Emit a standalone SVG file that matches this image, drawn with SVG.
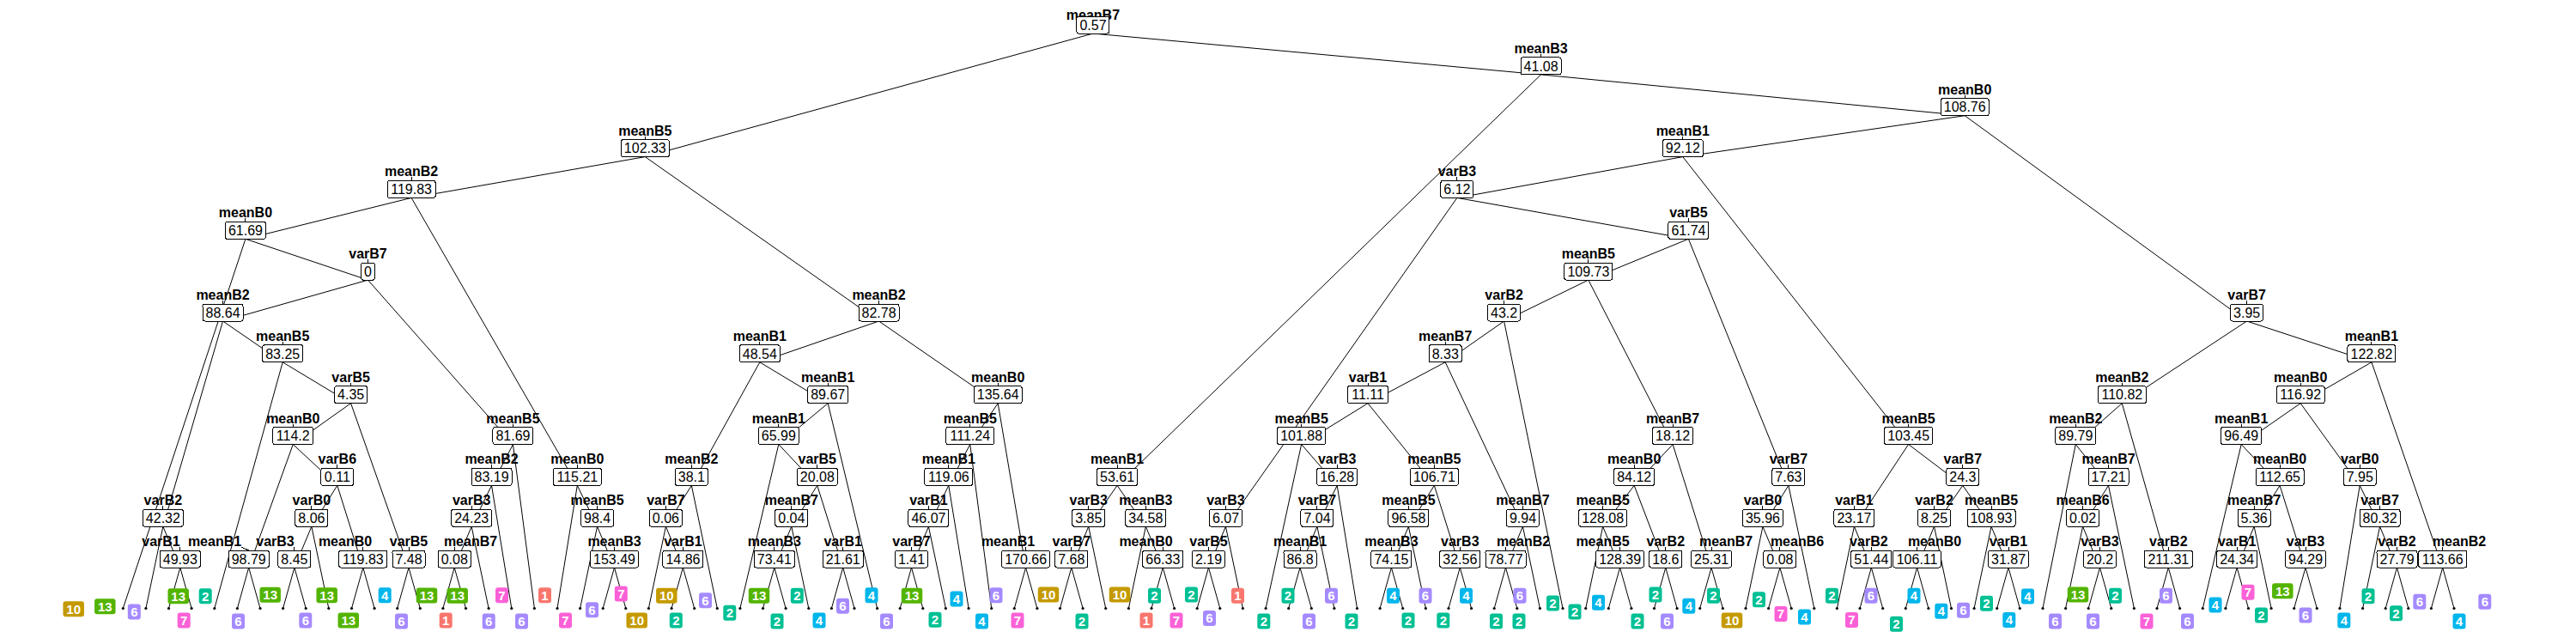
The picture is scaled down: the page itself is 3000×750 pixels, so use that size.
<svg xmlns="http://www.w3.org/2000/svg" xmlns:xlink="http://www.w3.org/1999/xlink" width="3000" height="750" viewBox="0 0 3000 750">
<style>
.e{stroke:#000;stroke-width:1;fill:none;stroke-linejoin:round}
.tk{stroke:#000;stroke-width:1;fill:none;shape-rendering:crispEdges}
.nm{font-family:"Liberation Sans",Arial,sans-serif;font-weight:bold;font-size:16px;text-anchor:middle;fill:#000}
.vl{font-family:"Liberation Sans",Arial,sans-serif;font-size:16px;text-anchor:middle;fill:#000}
.bx{fill:#fff;stroke:#000;stroke-width:1;shape-rendering:crispEdges}
.lf{font-family:"Liberation Sans",Arial,sans-serif;font-weight:bold;font-size:15px;text-anchor:middle;fill:#fff}
.dt{fill:#000}
.c1{fill:#F8766D}.c10{fill:#C49A00}.c13{fill:#53B400}.c2{fill:#00C094}.c4{fill:#00B6EB}.c6{fill:#A58AFF}.c7{fill:#FB61D7}
</style>
<defs>
<path id="tk" class="tk" d="M0-24V-20"/>
<rect id="b1" class="bx" x="-8" y="-20" width="16" height="20" rx="2.5"/>
<rect id="b3" class="bx" x="-19" y="-20" width="38" height="20" rx="2.5"/>
<rect id="b4" class="bx" x="-23.5" y="-20" width="47" height="20" rx="2.5"/>
<rect id="b5" class="bx" x="-28" y="-20" width="56" height="20" rx="2.5"/>
<rect id="r1" x="-7.5" y="-9" width="15" height="18" rx="3"/>
<rect id="r2" x="-12.25" y="-9" width="24.5" height="18" rx="3"/>
</defs>
<rect width="3000" height="750" fill="#fff"/>
<g id="connectors" class="e">
<path d="M751.3 182.6L1272.95 39L1794.6 86.9"/>
<path d="M479.1 230.4L751.3 182.6L1023.5 374"/>
<path d="M285.9 278.3L479.1 230.4L672.3 565.4"/>
<path d="M143.3 708.5L285.9 278.3L428.5 326.1"/>
<path d="M259.5 374L428.5 326.1L597.45 517.5"/>
<path d="M189.85 613.2L259.5 374L329.2 421.8"/>
<path d="M169.9 708.5L189.85 613.2L209.8 661"/>
<path d="M196.5 708.5L209.8 661L223.1 708.5"/>
<path d="M249.8 708.5L329.2 421.8L408.6 469.7"/>
<path d="M341.25 517.5L408.6 469.7L476 661"/>
<path d="M289.7 661L341.25 517.5L392.8 565.4"/>
<path d="M276.4 708.5L289.7 661L303 708.5"/>
<path d="M362.85 613.2L392.8 565.4L422.8 661"/>
<path d="M342.9 661L362.85 613.2L382.8 708.5"/>
<path d="M329.6 708.5L342.9 661L356.2 708.5"/>
<path d="M409.5 708.5L422.8 661L436.1 708.5"/>
<path d="M462.7 708.5L476 661L489.3 708.5"/>
<path d="M572.5 565.4L597.45 517.5L622.4 708.5"/>
<path d="M549.15 613.2L572.5 565.4L595.8 708.5"/>
<path d="M529.2 661L549.15 613.2L569.1 708.5"/>
<path d="M515.9 708.5L529.2 661L542.5 708.5"/>
<path d="M649 708.5L672.3 565.4L695.55 613.2"/>
<path d="M675.6 708.5L695.55 613.2L715.5 661"/>
<path d="M702.2 708.5L715.5 661L728.8 708.5"/>
<path d="M884.8 421.8L1023.5 374L1162.2 469.7"/>
<path d="M805.35 565.4L884.8 421.8L964.2 469.7"/>
<path d="M775.4 613.2L805.35 565.4L835.3 708.5"/>
<path d="M755.4 708.5L775.4 613.2L795.4 661"/>
<path d="M782.1 708.5L795.4 661L808.7 708.5"/>
<path d="M906.8 517.5L964.2 469.7L1021.6 708.5"/>
<path d="M861.9 708.5L906.8 517.5L951.75 565.4"/>
<path d="M921.8 613.2L951.75 565.4L981.7 661"/>
<path d="M901.8 661L921.8 613.2L941.8 708.5"/>
<path d="M888.5 708.5L901.8 661L915.1 708.5"/>
<path d="M968.4 708.5L981.7 661L995 708.5"/>
<path d="M1129.75 517.5L1162.2 469.7L1194.6 661"/>
<path d="M1104.8 565.4L1129.75 517.5L1154.7 708.5"/>
<path d="M1081.45 613.2L1104.8 565.4L1128.1 708.5"/>
<path d="M1061.5 661L1081.45 613.2L1101.4 708.5"/>
<path d="M1048.2 708.5L1061.5 661L1074.8 708.5"/>
<path d="M1181.3 708.5L1194.6 661L1207.9 708.5"/>
<path d="M1301.05 565.4L1794.6 86.9L2288.2 134.7"/>
<path d="M1267.75 613.2L1301.05 565.4L1334.35 613.2"/>
<path d="M1247.8 661L1267.75 613.2L1287.7 708.5"/>
<path d="M1234.5 708.5L1247.8 661L1261.1 708.5"/>
<path d="M1314.4 708.5L1334.35 613.2L1354.3 661"/>
<path d="M1341 708.5L1354.3 661L1367.6 708.5"/>
<path d="M1959.75 182.6L2288.2 134.7L2616.6 374"/>
<path d="M1696.9 230.4L1959.75 182.6L2222.6 517.5"/>
<path d="M1427.45 613.2L1696.9 230.4L1966.4 278.3"/>
<path d="M1407.5 661L1427.45 613.2L1447.4 708.5"/>
<path d="M1394.2 708.5L1407.5 661L1420.8 708.5"/>
<path d="M1849.85 326.1L1966.4 278.3L2082.9 565.4"/>
<path d="M1751.6 374L1849.85 326.1L1948.1 517.5"/>
<path d="M1683.2 421.8L1751.6 374L1820 708.5"/>
<path d="M1593 469.7L1683.2 421.8L1773.45 613.2"/>
<path d="M1515.65 517.5L1593 469.7L1670.35 565.4"/>
<path d="M1474.1 708.5L1515.65 517.5L1557.2 565.4"/>
<path d="M1533.95 613.2L1557.2 565.4L1580.5 708.5"/>
<path d="M1514 661L1533.95 613.2L1553.9 708.5"/>
<path d="M1500.7 708.5L1514 661L1527.3 708.5"/>
<path d="M1640.4 613.2L1670.35 565.4L1700.3 661"/>
<path d="M1620.4 661L1640.4 613.2L1660.4 708.5"/>
<path d="M1607.1 708.5L1620.4 661L1633.7 708.5"/>
<path d="M1687 708.5L1700.3 661L1713.6 708.5"/>
<path d="M1753.5 661L1773.45 613.2L1793.4 708.5"/>
<path d="M1740.2 708.5L1753.5 661L1766.8 708.5"/>
<path d="M1903.2 565.4L1948.1 517.5L1993.05 661"/>
<path d="M1866.65 613.2L1903.2 565.4L1939.8 661"/>
<path d="M1846.7 708.5L1866.65 613.2L1886.6 661"/>
<path d="M1873.3 708.5L1886.6 661L1899.9 708.5"/>
<path d="M1926.5 708.5L1939.8 661L1953.1 708.5"/>
<path d="M1979.7 708.5L1993.05 661L2006.4 708.5"/>
<path d="M2052.95 613.2L2082.9 565.4L2112.8 708.5"/>
<path d="M2033 708.5L2052.95 613.2L2072.9 661"/>
<path d="M2059.6 708.5L2072.9 661L2086.2 708.5"/>
<path d="M2159.4 613.2L2222.6 517.5L2285.8 565.4"/>
<path d="M2139.4 708.5L2159.4 613.2L2179.35 661"/>
<path d="M2166 708.5L2179.35 661L2192.7 708.5"/>
<path d="M2252.55 613.2L2285.8 565.4L2319.05 613.2"/>
<path d="M2232.6 661L2252.55 613.2L2272.5 708.5"/>
<path d="M2219.3 708.5L2232.6 661L2245.9 708.5"/>
<path d="M2299.1 708.5L2319.05 613.2L2339 661"/>
<path d="M2325.7 708.5L2339 661L2352.3 708.5"/>
<path d="M2471.3 469.7L2616.6 374L2761.95 421.8"/>
<path d="M2417.25 517.5L2471.3 469.7L2525.3 661"/>
<path d="M2379 708.5L2417.25 517.5L2455.5 565.4"/>
<path d="M2425.55 613.2L2455.5 565.4L2485.4 708.5"/>
<path d="M2405.6 708.5L2425.55 613.2L2445.5 661"/>
<path d="M2432.2 708.5L2445.5 661L2458.8 708.5"/>
<path d="M2512 708.5L2525.3 661L2538.6 708.5"/>
<path d="M2679.2 469.7L2761.95 421.8L2844.7 661"/>
<path d="M2610.2 517.5L2679.2 469.7L2748.2 565.4"/>
<path d="M2565.3 708.5L2610.2 517.5L2655.1 565.4"/>
<path d="M2625.15 613.2L2655.1 565.4L2685 661"/>
<path d="M2605.2 661L2625.15 613.2L2645.1 708.5"/>
<path d="M2591.9 708.5L2605.2 661L2618.5 708.5"/>
<path d="M2671.7 708.5L2685 661L2698.3 708.5"/>
<path d="M2724.9 708.5L2748.2 565.4L2771.55 613.2"/>
<path d="M2751.6 708.5L2771.55 613.2L2791.5 661"/>
<path d="M2778.2 708.5L2791.5 661L2804.8 708.5"/>
<path d="M2831.4 708.5L2844.7 661L2858 708.5"/>
</g>
<g id="nodes">
<g id="n_root" transform="translate(1272.95,39)"><text class="nm" y="-15.8">meanB7</text><use href="#b3"/><text class="vl" y="-4.3">0.57</text></g>
<g id="n_meanB5_10233" transform="translate(751.3,182.6)"><use href="#tk"/><text class="nm" y="-25">meanB5</text><use href="#b5"/><text class="vl" y="-4.3">102.33</text></g>
<g id="n_meanB2_11983" transform="translate(479.1,230.4)"><use href="#tk"/><text class="nm" y="-25">meanB2</text><use href="#b5"/><text class="vl" y="-4.3">119.83</text></g>
<g id="n_meanB0_6169" transform="translate(285.9,278.3)"><use href="#tk"/><text class="nm" y="-25">meanB0</text><use href="#b4"/><text class="vl" y="-4.3">61.69</text></g>
<g id="n_varB7_0" transform="translate(428.5,326.1)"><use href="#tk"/><text class="nm" y="-25">varB7</text><use href="#b1"/><text class="vl" y="-4.3">0</text></g>
<g id="n_meanB2_8864" transform="translate(259.5,374)"><use href="#tk"/><text class="nm" y="-25">meanB2</text><use href="#b4"/><text class="vl" y="-4.3">88.64</text></g>
<g id="n_varB2_4232" transform="translate(189.85,613.2)"><use href="#tk"/><text class="nm" y="-25">varB2</text><use href="#b4"/><text class="vl" y="-4.3">42.32</text></g>
<g id="n_varB1_4993" transform="translate(209.8,661)"><use href="#tk"/><text class="nm" x="-22.3" y="-25">varB1</text><use href="#b4"/><text class="vl" y="-4.3">49.93</text></g>
<g id="n_meanB5_8325" transform="translate(329.2,421.8)"><use href="#tk"/><text class="nm" y="-25">meanB5</text><use href="#b4"/><text class="vl" y="-4.3">83.25</text></g>
<g id="n_varB5_435" transform="translate(408.6,469.7)"><use href="#tk"/><text class="nm" y="-25">varB5</text><use href="#b3"/><text class="vl" y="-4.3">4.35</text></g>
<g id="n_meanB0_1142" transform="translate(341.25,517.5)"><use href="#tk"/><text class="nm" y="-25">meanB0</text><use href="#b4"/><text class="vl" y="-4.3">114.2</text></g>
<g id="n_meanB1_9879" transform="translate(289.7,661)"><path class="tk" d="M-8.7-24L0-20"/><text class="nm" x="-39.7" y="-25">meanB1</text><use href="#b4"/><text class="vl" y="-4.3">98.79</text></g>
<g id="n_varB6_011" transform="translate(392.8,565.4)"><use href="#tk"/><text class="nm" y="-25">varB6</text><use href="#b3"/><text class="vl" y="-4.3">0.11</text></g>
<g id="n_varB0_806" transform="translate(362.85,613.2)"><use href="#tk"/><text class="nm" y="-25">varB0</text><use href="#b3"/><text class="vl" y="-4.3">8.06</text></g>
<g id="n_varB3_845" transform="translate(342.9,661)"><use href="#tk"/><text class="nm" x="-22.4" y="-25">varB3</text><use href="#b3"/><text class="vl" y="-4.3">8.45</text></g>
<g id="n_meanB0_11983" transform="translate(422.8,661)"><use href="#tk"/><text class="nm" x="-20.8" y="-25">meanB0</text><use href="#b5"/><text class="vl" y="-4.3">119.83</text></g>
<g id="n_varB5_748" transform="translate(476,661)"><use href="#tk"/><text class="nm" y="-25">varB5</text><use href="#b3"/><text class="vl" y="-4.3">7.48</text></g>
<g id="n_meanB5_8169" transform="translate(597.45,517.5)"><use href="#tk"/><text class="nm" y="-25">meanB5</text><use href="#b4"/><text class="vl" y="-4.3">81.69</text></g>
<g id="n_meanB2_8319" transform="translate(572.5,565.4)"><use href="#tk"/><text class="nm" y="-25">meanB2</text><use href="#b4"/><text class="vl" y="-4.3">83.19</text></g>
<g id="n_varB3_2423" transform="translate(549.15,613.2)"><use href="#tk"/><text class="nm" y="-25">varB3</text><use href="#b4"/><text class="vl" y="-4.3">24.23</text></g>
<g id="n_meanB7_008" transform="translate(529.2,661)"><use href="#tk"/><text class="nm" x="18.8" y="-25">meanB7</text><use href="#b3"/><text class="vl" y="-4.3">0.08</text></g>
<g id="n_meanB0_11521" transform="translate(672.3,565.4)"><use href="#tk"/><text class="nm" y="-25">meanB0</text><use href="#b5"/><text class="vl" y="-4.3">115.21</text></g>
<g id="n_meanB5_984" transform="translate(695.55,613.2)"><use href="#tk"/><text class="nm" y="-25">meanB5</text><use href="#b3"/><text class="vl" y="-4.3">98.4</text></g>
<g id="n_meanB3_15349" transform="translate(715.5,661)"><use href="#tk"/><text class="nm" y="-25">meanB3</text><use href="#b5"/><text class="vl" y="-4.3">153.49</text></g>
<g id="n_meanB2_8278" transform="translate(1023.5,374)"><use href="#tk"/><text class="nm" y="-25">meanB2</text><use href="#b4"/><text class="vl" y="-4.3">82.78</text></g>
<g id="n_meanB1_4854" transform="translate(884.8,421.8)"><use href="#tk"/><text class="nm" y="-25">meanB1</text><use href="#b4"/><text class="vl" y="-4.3">48.54</text></g>
<g id="n_meanB2_381" transform="translate(805.35,565.4)"><use href="#tk"/><text class="nm" y="-25">meanB2</text><use href="#b3"/><text class="vl" y="-4.3">38.1</text></g>
<g id="n_varB7_006" transform="translate(775.4,613.2)"><use href="#tk"/><text class="nm" y="-25">varB7</text><use href="#b3"/><text class="vl" y="-4.3">0.06</text></g>
<g id="n_varB1_1486" transform="translate(795.4,661)"><use href="#tk"/><text class="nm" y="-25">varB1</text><use href="#b4"/><text class="vl" y="-4.3">14.86</text></g>
<g id="n_meanB1_8967" transform="translate(964.2,469.7)"><use href="#tk"/><text class="nm" y="-25">meanB1</text><use href="#b4"/><text class="vl" y="-4.3">89.67</text></g>
<g id="n_meanB1_6599" transform="translate(906.8,517.5)"><use href="#tk"/><text class="nm" y="-25">meanB1</text><use href="#b4"/><text class="vl" y="-4.3">65.99</text></g>
<g id="n_varB5_2008" transform="translate(951.75,565.4)"><use href="#tk"/><text class="nm" y="-25">varB5</text><use href="#b4"/><text class="vl" y="-4.3">20.08</text></g>
<g id="n_meanB7_004" transform="translate(921.8,613.2)"><use href="#tk"/><text class="nm" y="-25">meanB7</text><use href="#b3"/><text class="vl" y="-4.3">0.04</text></g>
<g id="n_meanB3_7341" transform="translate(901.8,661)"><use href="#tk"/><text class="nm" y="-25">meanB3</text><use href="#b4"/><text class="vl" y="-4.3">73.41</text></g>
<g id="n_varB1_2161" transform="translate(981.7,661)"><use href="#tk"/><text class="nm" y="-25">varB1</text><use href="#b4"/><text class="vl" y="-4.3">21.61</text></g>
<g id="n_meanB0_13564" transform="translate(1162.2,469.7)"><use href="#tk"/><text class="nm" y="-25">meanB0</text><use href="#b5"/><text class="vl" y="-4.3">135.64</text></g>
<g id="n_meanB5_11124" transform="translate(1129.75,517.5)"><use href="#tk"/><text class="nm" y="-25">meanB5</text><use href="#b5"/><text class="vl" y="-4.3">111.24</text></g>
<g id="n_meanB1_11906" transform="translate(1104.8,565.4)"><use href="#tk"/><text class="nm" y="-25">meanB1</text><use href="#b5"/><text class="vl" y="-4.3">119.06</text></g>
<g id="n_varB1_4607" transform="translate(1081.45,613.2)"><use href="#tk"/><text class="nm" y="-25">varB1</text><use href="#b4"/><text class="vl" y="-4.3">46.07</text></g>
<g id="n_varB7_141" transform="translate(1061.5,661)"><use href="#tk"/><text class="nm" y="-25">varB7</text><use href="#b3"/><text class="vl" y="-4.3">1.41</text></g>
<g id="n_meanB1_17066" transform="translate(1194.6,661)"><use href="#tk"/><text class="nm" x="-20.6" y="-25">meanB1</text><use href="#b5"/><text class="vl" y="-4.3">170.66</text></g>
<g id="n_meanB3_4108" transform="translate(1794.6,86.9)"><use href="#tk"/><text class="nm" y="-25">meanB3</text><use href="#b4"/><text class="vl" y="-4.3">41.08</text></g>
<g id="n_meanB1_5361" transform="translate(1301.05,565.4)"><use href="#tk"/><text class="nm" y="-25">meanB1</text><use href="#b4"/><text class="vl" y="-4.3">53.61</text></g>
<g id="n_varB3_385" transform="translate(1267.75,613.2)"><use href="#tk"/><text class="nm" y="-25">varB3</text><use href="#b3"/><text class="vl" y="-4.3">3.85</text></g>
<g id="n_varB7_768" transform="translate(1247.8,661)"><use href="#tk"/><text class="nm" y="-25">varB7</text><use href="#b3"/><text class="vl" y="-4.3">7.68</text></g>
<g id="n_meanB3_3458" transform="translate(1334.35,613.2)"><use href="#tk"/><text class="nm" y="-25">meanB3</text><use href="#b4"/><text class="vl" y="-4.3">34.58</text></g>
<g id="n_meanB0_6633" transform="translate(1354.3,661)"><use href="#tk"/><text class="nm" x="-19.8" y="-25">meanB0</text><use href="#b4"/><text class="vl" y="-4.3">66.33</text></g>
<g id="n_meanB0_10876" transform="translate(2288.2,134.7)"><use href="#tk"/><text class="nm" y="-25">meanB0</text><use href="#b5"/><text class="vl" y="-4.3">108.76</text></g>
<g id="n_meanB1_9212" transform="translate(1959.75,182.6)"><use href="#tk"/><text class="nm" y="-25">meanB1</text><use href="#b4"/><text class="vl" y="-4.3">92.12</text></g>
<g id="n_varB3_612" transform="translate(1696.9,230.4)"><use href="#tk"/><text class="nm" y="-25">varB3</text><use href="#b3"/><text class="vl" y="-4.3">6.12</text></g>
<g id="n_varB3_607" transform="translate(1427.45,613.2)"><use href="#tk"/><text class="nm" y="-25">varB3</text><use href="#b3"/><text class="vl" y="-4.3">6.07</text></g>
<g id="n_varB5_219" transform="translate(1407.5,661)"><use href="#tk"/><text class="nm" y="-25">varB5</text><use href="#b3"/><text class="vl" y="-4.3">2.19</text></g>
<g id="n_varB5_6174" transform="translate(1966.4,278.3)"><use href="#tk"/><text class="nm" y="-25">varB5</text><use href="#b4"/><text class="vl" y="-4.3">61.74</text></g>
<g id="n_meanB5_10973" transform="translate(1849.85,326.1)"><use href="#tk"/><text class="nm" y="-25">meanB5</text><use href="#b5"/><text class="vl" y="-4.3">109.73</text></g>
<g id="n_varB2_432" transform="translate(1751.6,374)"><use href="#tk"/><text class="nm" y="-25">varB2</text><use href="#b3"/><text class="vl" y="-4.3">43.2</text></g>
<g id="n_meanB7_833" transform="translate(1683.2,421.8)"><use href="#tk"/><text class="nm" y="-25">meanB7</text><use href="#b3"/><text class="vl" y="-4.3">8.33</text></g>
<g id="n_varB1_1111" transform="translate(1593,469.7)"><use href="#tk"/><text class="nm" y="-25">varB1</text><use href="#b4"/><text class="vl" y="-4.3">11.11</text></g>
<g id="n_meanB5_10188" transform="translate(1515.65,517.5)"><use href="#tk"/><text class="nm" y="-25">meanB5</text><use href="#b5"/><text class="vl" y="-4.3">101.88</text></g>
<g id="n_varB3_1628" transform="translate(1557.2,565.4)"><use href="#tk"/><text class="nm" y="-25">varB3</text><use href="#b4"/><text class="vl" y="-4.3">16.28</text></g>
<g id="n_varB7_704" transform="translate(1533.95,613.2)"><use href="#tk"/><text class="nm" y="-25">varB7</text><use href="#b3"/><text class="vl" y="-4.3">7.04</text></g>
<g id="n_meanB1_868" transform="translate(1514,661)"><use href="#tk"/><text class="nm" y="-25">meanB1</text><use href="#b3"/><text class="vl" y="-4.3">86.8</text></g>
<g id="n_meanB5_10671" transform="translate(1670.35,565.4)"><use href="#tk"/><text class="nm" y="-25">meanB5</text><use href="#b5"/><text class="vl" y="-4.3">106.71</text></g>
<g id="n_meanB5_9658" transform="translate(1640.4,613.2)"><use href="#tk"/><text class="nm" y="-25">meanB5</text><use href="#b4"/><text class="vl" y="-4.3">96.58</text></g>
<g id="n_meanB3_7415" transform="translate(1620.4,661)"><use href="#tk"/><text class="nm" y="-25">meanB3</text><use href="#b4"/><text class="vl" y="-4.3">74.15</text></g>
<g id="n_varB3_3256" transform="translate(1700.3,661)"><use href="#tk"/><text class="nm" y="-25">varB3</text><use href="#b4"/><text class="vl" y="-4.3">32.56</text></g>
<g id="n_meanB7_994" transform="translate(1773.45,613.2)"><use href="#tk"/><text class="nm" y="-25">meanB7</text><use href="#b3"/><text class="vl" y="-4.3">9.94</text></g>
<g id="n_meanB2_7877" transform="translate(1753.5,661)"><use href="#tk"/><text class="nm" x="20.5" y="-25">meanB2</text><use href="#b4"/><text class="vl" y="-4.3">78.77</text></g>
<g id="n_meanB7_1812" transform="translate(1948.1,517.5)"><use href="#tk"/><text class="nm" y="-25">meanB7</text><use href="#b4"/><text class="vl" y="-4.3">18.12</text></g>
<g id="n_meanB0_8412" transform="translate(1903.2,565.4)"><use href="#tk"/><text class="nm" y="-25">meanB0</text><use href="#b4"/><text class="vl" y="-4.3">84.12</text></g>
<g id="n_meanB5_12808" transform="translate(1866.65,613.2)"><use href="#tk"/><text class="nm" y="-25">meanB5</text><use href="#b5"/><text class="vl" y="-4.3">128.08</text></g>
<g id="n_meanB5_12839" transform="translate(1886.6,661)"><use href="#tk"/><text class="nm" x="-20.1" y="-25">meanB5</text><use href="#b5"/><text class="vl" y="-4.3">128.39</text></g>
<g id="n_varB2_186" transform="translate(1939.8,661)"><use href="#tk"/><text class="nm" y="-25">varB2</text><use href="#b3"/><text class="vl" y="-4.3">18.6</text></g>
<g id="n_meanB7_2531" transform="translate(1993.05,661)"><use href="#tk"/><text class="nm" x="17" y="-25">meanB7</text><use href="#b4"/><text class="vl" y="-4.3">25.31</text></g>
<g id="n_varB7_763" transform="translate(2082.9,565.4)"><use href="#tk"/><text class="nm" y="-25">varB7</text><use href="#b3"/><text class="vl" y="-4.3">7.63</text></g>
<g id="n_varB0_3596" transform="translate(2052.95,613.2)"><use href="#tk"/><text class="nm" y="-25">varB0</text><use href="#b4"/><text class="vl" y="-4.3">35.96</text></g>
<g id="n_meanB6_008" transform="translate(2072.9,661)"><use href="#tk"/><text class="nm" x="20.1" y="-25">meanB6</text><use href="#b3"/><text class="vl" y="-4.3">0.08</text></g>
<g id="n_meanB5_10345" transform="translate(2222.6,517.5)"><use href="#tk"/><text class="nm" y="-25">meanB5</text><use href="#b5"/><text class="vl" y="-4.3">103.45</text></g>
<g id="n_varB1_2317" transform="translate(2159.4,613.2)"><use href="#tk"/><text class="nm" y="-25">varB1</text><use href="#b4"/><text class="vl" y="-4.3">23.17</text></g>
<g id="n_varB2_5144" transform="translate(2179.35,661)"><use href="#tk"/><text class="nm" x="-3" y="-25">varB2</text><use href="#b4"/><text class="vl" y="-4.3">51.44</text></g>
<g id="n_varB7_243" transform="translate(2285.8,565.4)"><use href="#tk"/><text class="nm" y="-25">varB7</text><use href="#b3"/><text class="vl" y="-4.3">24.3</text></g>
<g id="n_varB2_825" transform="translate(2252.55,613.2)"><use href="#tk"/><text class="nm" y="-25">varB2</text><use href="#b3"/><text class="vl" y="-4.3">8.25</text></g>
<g id="n_meanB0_10611" transform="translate(2232.6,661)"><use href="#tk"/><text class="nm" x="20.4" y="-25">meanB0</text><use href="#b5"/><text class="vl" y="-4.3">106.11</text></g>
<g id="n_meanB5_10893" transform="translate(2319.05,613.2)"><use href="#tk"/><text class="nm" y="-25">meanB5</text><use href="#b5"/><text class="vl" y="-4.3">108.93</text></g>
<g id="n_varB1_3187" transform="translate(2339,661)"><use href="#tk"/><text class="nm" y="-25">varB1</text><use href="#b4"/><text class="vl" y="-4.3">31.87</text></g>
<g id="n_varB7_395" transform="translate(2616.6,374)"><use href="#tk"/><text class="nm" y="-25">varB7</text><use href="#b3"/><text class="vl" y="-4.3">3.95</text></g>
<g id="n_meanB2_11082" transform="translate(2471.3,469.7)"><use href="#tk"/><text class="nm" y="-25">meanB2</text><use href="#b5"/><text class="vl" y="-4.3">110.82</text></g>
<g id="n_meanB2_8979" transform="translate(2417.25,517.5)"><use href="#tk"/><text class="nm" y="-25">meanB2</text><use href="#b4"/><text class="vl" y="-4.3">89.79</text></g>
<g id="n_meanB7_1721" transform="translate(2455.5,565.4)"><use href="#tk"/><text class="nm" y="-25">meanB7</text><use href="#b4"/><text class="vl" y="-4.3">17.21</text></g>
<g id="n_meanB6_002" transform="translate(2425.55,613.2)"><use href="#tk"/><text class="nm" y="-25">meanB6</text><use href="#b3"/><text class="vl" y="-4.3">0.02</text></g>
<g id="n_varB3_202" transform="translate(2445.5,661)"><use href="#tk"/><text class="nm" y="-25">varB3</text><use href="#b3"/><text class="vl" y="-4.3">20.2</text></g>
<g id="n_varB2_21131" transform="translate(2525.3,661)"><use href="#tk"/><text class="nm" y="-25">varB2</text><use href="#b5"/><text class="vl" y="-4.3">211.31</text></g>
<g id="n_meanB1_12282" transform="translate(2761.95,421.8)"><use href="#tk"/><text class="nm" y="-25">meanB1</text><use href="#b5"/><text class="vl" y="-4.3">122.82</text></g>
<g id="n_meanB0_11692" transform="translate(2679.2,469.7)"><use href="#tk"/><text class="nm" y="-25">meanB0</text><use href="#b5"/><text class="vl" y="-4.3">116.92</text></g>
<g id="n_meanB1_9649" transform="translate(2610.2,517.5)"><use href="#tk"/><text class="nm" y="-25">meanB1</text><use href="#b4"/><text class="vl" y="-4.3">96.49</text></g>
<g id="n_meanB0_11265" transform="translate(2655.1,565.4)"><use href="#tk"/><text class="nm" y="-25">meanB0</text><use href="#b5"/><text class="vl" y="-4.3">112.65</text></g>
<g id="n_meanB7_536" transform="translate(2625.15,613.2)"><use href="#tk"/><text class="nm" y="-25">meanB7</text><use href="#b3"/><text class="vl" y="-4.3">5.36</text></g>
<g id="n_varB1_2434" transform="translate(2605.2,661)"><use href="#tk"/><text class="nm" y="-25">varB1</text><use href="#b4"/><text class="vl" y="-4.3">24.34</text></g>
<g id="n_varB3_9429" transform="translate(2685,661)"><use href="#tk"/><text class="nm" y="-25">varB3</text><use href="#b4"/><text class="vl" y="-4.3">94.29</text></g>
<g id="n_varB0_795" transform="translate(2748.2,565.4)"><use href="#tk"/><text class="nm" y="-25">varB0</text><use href="#b3"/><text class="vl" y="-4.3">7.95</text></g>
<g id="n_varB7_8032" transform="translate(2771.55,613.2)"><use href="#tk"/><text class="nm" y="-25">varB7</text><use href="#b4"/><text class="vl" y="-4.3">80.32</text></g>
<g id="n_varB2_2779" transform="translate(2791.5,661)"><use href="#tk"/><text class="nm" y="-25">varB2</text><use href="#b4"/><text class="vl" y="-4.3">27.79</text></g>
<g id="n_meanB2_11366" transform="translate(2844.7,661)"><use href="#tk"/><text class="nm" x="19.3" y="-25">meanB2</text><use href="#b5"/><text class="vl" y="-4.3">113.66</text></g>
</g>
<g id="leaves">
<g id="leaf0"><circle class="dt" cx="143.3" cy="708.5" r="1.6"/><use href="#r2" class="c10" x="85.7" y="709.2"/><text class="lf" x="85.7" y="709.2" dy=".36em">10</text></g>
<g id="leaf1"><circle class="dt" cx="169.9" cy="708.5" r="1.6"/><use href="#r2" class="c13" x="122.3" y="706.2"/><text class="lf" x="122.3" y="706.2" dy=".36em">13</text></g>
<g id="leaf2"><circle class="dt" cx="196.5" cy="708.5" r="1.6"/><use href="#r1" class="c6" x="156.3" y="712.5"/><text class="lf" x="156.3" y="712.5" dy=".36em">6</text></g>
<g id="leaf3"><circle class="dt" cx="223.1" cy="708.5" r="1.6"/><use href="#r2" class="c13" x="207.7" y="694.3"/><text class="lf" x="207.7" y="694.3" dy=".36em">13</text></g>
<g id="leaf4"><circle class="dt" cx="249.8" cy="708.5" r="1.6"/><use href="#r1" class="c7" x="214.2" y="722.5"/><text class="lf" x="214.2" y="722.5" dy=".36em">7</text></g>
<g id="leaf5"><circle class="dt" cx="276.4" cy="708.5" r="1.6"/><use href="#r1" class="c2" x="239.2" y="694.2"/><text class="lf" x="239.2" y="694.2" dy=".36em">2</text></g>
<g id="leaf6"><circle class="dt" cx="303" cy="708.5" r="1.6"/><use href="#r1" class="c6" x="277.5" y="723.5"/><text class="lf" x="277.5" y="723.5" dy=".36em">6</text></g>
<g id="leaf7"><circle class="dt" cx="329.6" cy="708.5" r="1.6"/><use href="#r2" class="c13" x="314.7" y="692.8"/><text class="lf" x="314.7" y="692.8" dy=".36em">13</text></g>
<g id="leaf8"><circle class="dt" cx="356.2" cy="708.5" r="1.6"/><use href="#r1" class="c6" x="355.8" y="722.5"/><text class="lf" x="355.8" y="722.5" dy=".36em">6</text></g>
<g id="leaf9"><circle class="dt" cx="382.8" cy="708.5" r="1.6"/><use href="#r2" class="c13" x="380.7" y="693.2"/><text class="lf" x="380.7" y="693.2" dy=".36em">13</text></g>
<g id="leaf10"><circle class="dt" cx="409.5" cy="708.5" r="1.6"/><use href="#r2" class="c13" x="405.8" y="722.5"/><text class="lf" x="405.8" y="722.5" dy=".36em">13</text></g>
<g id="leaf11"><circle class="dt" cx="436.1" cy="708.5" r="1.6"/><use href="#r1" class="c4" x="448.2" y="693.2"/><text class="lf" x="448.2" y="693.2" dy=".36em">4</text></g>
<g id="leaf12"><circle class="dt" cx="462.7" cy="708.5" r="1.6"/><use href="#r1" class="c6" x="467.5" y="723.5"/><text class="lf" x="467.5" y="723.5" dy=".36em">6</text></g>
<g id="leaf13"><circle class="dt" cx="489.3" cy="708.5" r="1.6"/><use href="#r2" class="c13" x="497" y="693.5"/><text class="lf" x="497" y="693.5" dy=".36em">13</text></g>
<g id="leaf14"><circle class="dt" cx="515.9" cy="708.5" r="1.6"/><use href="#r1" class="c1" x="519.2" y="722.5"/><text class="lf" x="519.2" y="722.5" dy=".36em">1</text></g>
<g id="leaf15"><circle class="dt" cx="542.5" cy="708.5" r="1.6"/><use href="#r2" class="c13" x="532.7" y="693.8"/><text class="lf" x="532.7" y="693.8" dy=".36em">13</text></g>
<g id="leaf16"><circle class="dt" cx="569.1" cy="708.5" r="1.6"/><use href="#r1" class="c6" x="569.2" y="723.5"/><text class="lf" x="569.2" y="723.5" dy=".36em">6</text></g>
<g id="leaf17"><circle class="dt" cx="595.8" cy="708.5" r="1.6"/><use href="#r1" class="c7" x="584.5" y="693.2"/><text class="lf" x="584.5" y="693.2" dy=".36em">7</text></g>
<g id="leaf18"><circle class="dt" cx="622.4" cy="708.5" r="1.6"/><use href="#r1" class="c6" x="607.5" y="723.5"/><text class="lf" x="607.5" y="723.5" dy=".36em">6</text></g>
<g id="leaf19"><circle class="dt" cx="649" cy="708.5" r="1.6"/><use href="#r1" class="c1" x="634.5" y="693.2"/><text class="lf" x="634.5" y="693.2" dy=".36em">1</text></g>
<g id="leaf20"><circle class="dt" cx="675.6" cy="708.5" r="1.6"/><use href="#r1" class="c7" x="658.5" y="722.5"/><text class="lf" x="658.5" y="722.5" dy=".36em">7</text></g>
<g id="leaf21"><circle class="dt" cx="702.2" cy="708.5" r="1.6"/><use href="#r1" class="c6" x="689.5" y="710.3"/><text class="lf" x="689.5" y="710.3" dy=".36em">6</text></g>
<g id="leaf22"><circle class="dt" cx="728.8" cy="708.5" r="1.6"/><use href="#r1" class="c7" x="723.3" y="691.5"/><text class="lf" x="723.3" y="691.5" dy=".36em">7</text></g>
<g id="leaf23"><circle class="dt" cx="755.4" cy="708.5" r="1.6"/><use href="#r2" class="c10" x="741.7" y="722.5"/><text class="lf" x="741.7" y="722.5" dy=".36em">10</text></g>
<g id="leaf24"><circle class="dt" cx="782.1" cy="708.5" r="1.6"/><use href="#r2" class="c10" x="776.3" y="693.8"/><text class="lf" x="776.3" y="693.8" dy=".36em">10</text></g>
<g id="leaf25"><circle class="dt" cx="808.7" cy="708.5" r="1.6"/><use href="#r1" class="c2" x="787.3" y="722.5"/><text class="lf" x="787.3" y="722.5" dy=".36em">2</text></g>
<g id="leaf26"><circle class="dt" cx="835.3" cy="708.5" r="1.6"/><use href="#r1" class="c6" x="821.5" y="699.2"/><text class="lf" x="821.5" y="699.2" dy=".36em">6</text></g>
<g id="leaf27"><circle class="dt" cx="861.9" cy="708.5" r="1.6"/><use href="#r1" class="c2" x="849.8" y="713.7"/><text class="lf" x="849.8" y="713.7" dy=".36em">2</text></g>
<g id="leaf28"><circle class="dt" cx="888.5" cy="708.5" r="1.6"/><use href="#r2" class="c13" x="884" y="693.8"/><text class="lf" x="884" y="693.8" dy=".36em">13</text></g>
<g id="leaf29"><circle class="dt" cx="915.1" cy="708.5" r="1.6"/><use href="#r1" class="c2" x="905" y="723.5"/><text class="lf" x="905" y="723.5" dy=".36em">2</text></g>
<g id="leaf30"><circle class="dt" cx="941.8" cy="708.5" r="1.6"/><use href="#r1" class="c2" x="928.3" y="693.8"/><text class="lf" x="928.3" y="693.8" dy=".36em">2</text></g>
<g id="leaf31"><circle class="dt" cx="968.4" cy="708.5" r="1.6"/><use href="#r1" class="c4" x="954" y="722.5"/><text class="lf" x="954" y="722.5" dy=".36em">4</text></g>
<g id="leaf32"><circle class="dt" cx="995" cy="708.5" r="1.6"/><use href="#r1" class="c6" x="981.5" y="705.7"/><text class="lf" x="981.5" y="705.7" dy=".36em">6</text></g>
<g id="leaf33"><circle class="dt" cx="1021.6" cy="708.5" r="1.6"/><use href="#r1" class="c4" x="1015" y="693.2"/><text class="lf" x="1015" y="693.2" dy=".36em">4</text></g>
<g id="leaf34"><circle class="dt" cx="1048.2" cy="708.5" r="1.6"/><use href="#r1" class="c6" x="1032.5" y="723.5"/><text class="lf" x="1032.5" y="723.5" dy=".36em">6</text></g>
<g id="leaf35"><circle class="dt" cx="1074.8" cy="708.5" r="1.6"/><use href="#r2" class="c13" x="1062" y="693.8"/><text class="lf" x="1062" y="693.8" dy=".36em">13</text></g>
<g id="leaf36"><circle class="dt" cx="1101.4" cy="708.5" r="1.6"/><use href="#r1" class="c2" x="1089" y="721.7"/><text class="lf" x="1089" y="721.7" dy=".36em">2</text></g>
<g id="leaf37"><circle class="dt" cx="1128.1" cy="708.5" r="1.6"/><use href="#r1" class="c4" x="1114" y="697.5"/><text class="lf" x="1114" y="697.5" dy=".36em">4</text></g>
<g id="leaf38"><circle class="dt" cx="1154.7" cy="708.5" r="1.6"/><use href="#r1" class="c4" x="1143.5" y="723.5"/><text class="lf" x="1143.5" y="723.5" dy=".36em">4</text></g>
<g id="leaf39"><circle class="dt" cx="1181.3" cy="708.5" r="1.6"/><use href="#r1" class="c6" x="1160" y="693.2"/><text class="lf" x="1160" y="693.2" dy=".36em">6</text></g>
<g id="leaf40"><circle class="dt" cx="1207.9" cy="708.5" r="1.6"/><use href="#r1" class="c7" x="1185" y="722.5"/><text class="lf" x="1185" y="722.5" dy=".36em">7</text></g>
<g id="leaf41"><circle class="dt" cx="1234.5" cy="708.5" r="1.6"/><use href="#r2" class="c10" x="1221" y="692.5"/><text class="lf" x="1221" y="692.5" dy=".36em">10</text></g>
<g id="leaf42"><circle class="dt" cx="1261.1" cy="708.5" r="1.6"/><use href="#r1" class="c2" x="1260" y="723.5"/><text class="lf" x="1260" y="723.5" dy=".36em">2</text></g>
<g id="leaf43"><circle class="dt" cx="1287.7" cy="708.5" r="1.6"/><use href="#r2" class="c10" x="1304" y="692.5"/><text class="lf" x="1304" y="692.5" dy=".36em">10</text></g>
<g id="leaf44"><circle class="dt" cx="1314.4" cy="708.5" r="1.6"/><use href="#r1" class="c1" x="1335" y="722.5"/><text class="lf" x="1335" y="722.5" dy=".36em">1</text></g>
<g id="leaf45"><circle class="dt" cx="1341" cy="708.5" r="1.6"/><use href="#r1" class="c2" x="1344.5" y="693.8"/><text class="lf" x="1344.5" y="693.8" dy=".36em">2</text></g>
<g id="leaf46"><circle class="dt" cx="1367.6" cy="708.5" r="1.6"/><use href="#r1" class="c7" x="1370" y="722.5"/><text class="lf" x="1370" y="722.5" dy=".36em">7</text></g>
<g id="leaf47"><circle class="dt" cx="1394.2" cy="708.5" r="1.6"/><use href="#r1" class="c2" x="1387.5" y="692.5"/><text class="lf" x="1387.5" y="692.5" dy=".36em">2</text></g>
<g id="leaf48"><circle class="dt" cx="1420.8" cy="708.5" r="1.6"/><use href="#r1" class="c6" x="1408.5" y="720"/><text class="lf" x="1408.5" y="720" dy=".36em">6</text></g>
<g id="leaf49"><circle class="dt" cx="1447.4" cy="708.5" r="1.6"/><use href="#r1" class="c1" x="1441.5" y="693.8"/><text class="lf" x="1441.5" y="693.8" dy=".36em">1</text></g>
<g id="leaf50"><circle class="dt" cx="1474.1" cy="708.5" r="1.6"/><use href="#r1" class="c2" x="1471.8" y="723.5"/><text class="lf" x="1471.8" y="723.5" dy=".36em">2</text></g>
<g id="leaf51"><circle class="dt" cx="1500.7" cy="708.5" r="1.6"/><use href="#r1" class="c2" x="1500" y="693.8"/><text class="lf" x="1500" y="693.8" dy=".36em">2</text></g>
<g id="leaf52"><circle class="dt" cx="1527.3" cy="708.5" r="1.6"/><use href="#r1" class="c6" x="1524.5" y="723.5"/><text class="lf" x="1524.5" y="723.5" dy=".36em">6</text></g>
<g id="leaf53"><circle class="dt" cx="1553.9" cy="708.5" r="1.6"/><use href="#r1" class="c6" x="1550.5" y="693.8"/><text class="lf" x="1550.5" y="693.8" dy=".36em">6</text></g>
<g id="leaf54"><circle class="dt" cx="1580.5" cy="708.5" r="1.6"/><use href="#r1" class="c2" x="1574" y="723.5"/><text class="lf" x="1574" y="723.5" dy=".36em">2</text></g>
<g id="leaf55"><circle class="dt" cx="1607.1" cy="708.5" r="1.6"/><use href="#r1" class="c4" x="1622.5" y="693.8"/><text class="lf" x="1622.5" y="693.8" dy=".36em">4</text></g>
<g id="leaf56"><circle class="dt" cx="1633.7" cy="708.5" r="1.6"/><use href="#r1" class="c2" x="1640" y="722.5"/><text class="lf" x="1640" y="722.5" dy=".36em">2</text></g>
<g id="leaf57"><circle class="dt" cx="1660.4" cy="708.5" r="1.6"/><use href="#r1" class="c6" x="1660" y="693.8"/><text class="lf" x="1660" y="693.8" dy=".36em">6</text></g>
<g id="leaf58"><circle class="dt" cx="1687" cy="708.5" r="1.6"/><use href="#r1" class="c2" x="1680.8" y="722.5"/><text class="lf" x="1680.8" y="722.5" dy=".36em">2</text></g>
<g id="leaf59"><circle class="dt" cx="1713.6" cy="708.5" r="1.6"/><use href="#r1" class="c4" x="1707.5" y="693.8"/><text class="lf" x="1707.5" y="693.8" dy=".36em">4</text></g>
<g id="leaf60"><circle class="dt" cx="1740.2" cy="708.5" r="1.6"/><use href="#r1" class="c2" x="1742.5" y="723.5"/><text class="lf" x="1742.5" y="723.5" dy=".36em">2</text></g>
<g id="leaf61"><circle class="dt" cx="1766.8" cy="708.5" r="1.6"/><use href="#r1" class="c6" x="1770" y="693.8"/><text class="lf" x="1770" y="693.8" dy=".36em">6</text></g>
<g id="leaf62"><circle class="dt" cx="1793.4" cy="708.5" r="1.6"/><use href="#r1" class="c2" x="1769" y="723.5"/><text class="lf" x="1769" y="723.5" dy=".36em">2</text></g>
<g id="leaf63"><circle class="dt" cx="1820" cy="708.5" r="1.6"/><use href="#r1" class="c2" x="1808.5" y="702.5"/><text class="lf" x="1808.5" y="702.5" dy=".36em">2</text></g>
<g id="leaf64"><circle class="dt" cx="1846.7" cy="708.5" r="1.6"/><use href="#r1" class="c2" x="1834" y="712.5"/><text class="lf" x="1834" y="712.5" dy=".36em">2</text></g>
<g id="leaf65"><circle class="dt" cx="1873.3" cy="708.5" r="1.6"/><use href="#r1" class="c4" x="1861.5" y="701.7"/><text class="lf" x="1861.5" y="701.7" dy=".36em">4</text></g>
<g id="leaf66"><circle class="dt" cx="1899.9" cy="708.5" r="1.6"/><use href="#r1" class="c2" x="1907" y="723.5"/><text class="lf" x="1907" y="723.5" dy=".36em">2</text></g>
<g id="leaf67"><circle class="dt" cx="1926.5" cy="708.5" r="1.6"/><use href="#r1" class="c2" x="1928" y="692.5"/><text class="lf" x="1928" y="692.5" dy=".36em">2</text></g>
<g id="leaf68"><circle class="dt" cx="1953.1" cy="708.5" r="1.6"/><use href="#r1" class="c6" x="1941.5" y="723.5"/><text class="lf" x="1941.5" y="723.5" dy=".36em">6</text></g>
<g id="leaf69"><circle class="dt" cx="1979.7" cy="708.5" r="1.6"/><use href="#r1" class="c4" x="1966.8" y="705.8"/><text class="lf" x="1966.8" y="705.8" dy=".36em">4</text></g>
<g id="leaf70"><circle class="dt" cx="2006.4" cy="708.5" r="1.6"/><use href="#r1" class="c2" x="1995.5" y="693.8"/><text class="lf" x="1995.5" y="693.8" dy=".36em">2</text></g>
<g id="leaf71"><circle class="dt" cx="2033" cy="708.5" r="1.6"/><use href="#r2" class="c10" x="2017" y="722.5"/><text class="lf" x="2017" y="722.5" dy=".36em">10</text></g>
<g id="leaf72"><circle class="dt" cx="2059.6" cy="708.5" r="1.6"/><use href="#r1" class="c2" x="2048.5" y="698.3"/><text class="lf" x="2048.5" y="698.3" dy=".36em">2</text></g>
<g id="leaf73"><circle class="dt" cx="2086.2" cy="708.5" r="1.6"/><use href="#r1" class="c7" x="2074" y="715"/><text class="lf" x="2074" y="715" dy=".36em">7</text></g>
<g id="leaf74"><circle class="dt" cx="2112.8" cy="708.5" r="1.6"/><use href="#r1" class="c4" x="2101.5" y="718.5"/><text class="lf" x="2101.5" y="718.5" dy=".36em">4</text></g>
<g id="leaf75"><circle class="dt" cx="2139.4" cy="708.5" r="1.6"/><use href="#r1" class="c2" x="2133.5" y="693.8"/><text class="lf" x="2133.5" y="693.8" dy=".36em">2</text></g>
<g id="leaf76"><circle class="dt" cx="2166" cy="708.5" r="1.6"/><use href="#r1" class="c7" x="2156.5" y="722"/><text class="lf" x="2156.5" y="722" dy=".36em">7</text></g>
<g id="leaf77"><circle class="dt" cx="2192.7" cy="708.5" r="1.6"/><use href="#r1" class="c6" x="2179" y="693.8"/><text class="lf" x="2179" y="693.8" dy=".36em">6</text></g>
<g id="leaf78"><circle class="dt" cx="2219.3" cy="708.5" r="1.6"/><use href="#r1" class="c2" x="2208.5" y="726.7"/><text class="lf" x="2208.5" y="726.7" dy=".36em">2</text></g>
<g id="leaf79"><circle class="dt" cx="2245.9" cy="708.5" r="1.6"/><use href="#r1" class="c4" x="2229" y="693.8"/><text class="lf" x="2229" y="693.8" dy=".36em">4</text></g>
<g id="leaf80"><circle class="dt" cx="2272.5" cy="708.5" r="1.6"/><use href="#r1" class="c4" x="2260.8" y="711.7"/><text class="lf" x="2260.8" y="711.7" dy=".36em">4</text></g>
<g id="leaf81"><circle class="dt" cx="2299.1" cy="708.5" r="1.6"/><use href="#r1" class="c6" x="2286.5" y="710.8"/><text class="lf" x="2286.5" y="710.8" dy=".36em">6</text></g>
<g id="leaf82"><circle class="dt" cx="2325.7" cy="708.5" r="1.6"/><use href="#r1" class="c2" x="2313.5" y="702.7"/><text class="lf" x="2313.5" y="702.7" dy=".36em">2</text></g>
<g id="leaf83"><circle class="dt" cx="2352.3" cy="708.5" r="1.6"/><use href="#r1" class="c4" x="2339.8" y="722"/><text class="lf" x="2339.8" y="722" dy=".36em">4</text></g>
<g id="leaf84"><circle class="dt" cx="2379" cy="708.5" r="1.6"/><use href="#r1" class="c4" x="2361.5" y="694.5"/><text class="lf" x="2361.5" y="694.5" dy=".36em">4</text></g>
<g id="leaf85"><circle class="dt" cx="2405.6" cy="708.5" r="1.6"/><use href="#r1" class="c6" x="2393.5" y="723.5"/><text class="lf" x="2393.5" y="723.5" dy=".36em">6</text></g>
<g id="leaf86"><circle class="dt" cx="2432.2" cy="708.5" r="1.6"/><use href="#r2" class="c13" x="2420" y="692.5"/><text class="lf" x="2420" y="692.5" dy=".36em">13</text></g>
<g id="leaf87"><circle class="dt" cx="2458.8" cy="708.5" r="1.6"/><use href="#r1" class="c6" x="2437.5" y="723.5"/><text class="lf" x="2437.5" y="723.5" dy=".36em">6</text></g>
<g id="leaf88"><circle class="dt" cx="2485.4" cy="708.5" r="1.6"/><use href="#r1" class="c2" x="2463.5" y="693.8"/><text class="lf" x="2463.5" y="693.8" dy=".36em">2</text></g>
<g id="leaf89"><circle class="dt" cx="2512" cy="708.5" r="1.6"/><use href="#r1" class="c7" x="2500" y="723.5"/><text class="lf" x="2500" y="723.5" dy=".36em">7</text></g>
<g id="leaf90"><circle class="dt" cx="2538.6" cy="708.5" r="1.6"/><use href="#r1" class="c6" x="2522.5" y="693.8"/><text class="lf" x="2522.5" y="693.8" dy=".36em">6</text></g>
<g id="leaf91"><circle class="dt" cx="2565.3" cy="708.5" r="1.6"/><use href="#r1" class="c6" x="2547.5" y="723.5"/><text class="lf" x="2547.5" y="723.5" dy=".36em">6</text></g>
<g id="leaf92"><circle class="dt" cx="2591.9" cy="708.5" r="1.6"/><use href="#r1" class="c4" x="2580" y="704.5"/><text class="lf" x="2580" y="704.5" dy=".36em">4</text></g>
<g id="leaf93"><circle class="dt" cx="2618.5" cy="708.5" r="1.6"/><use href="#r1" class="c7" x="2618" y="689.8"/><text class="lf" x="2618" y="689.8" dy=".36em">7</text></g>
<g id="leaf94"><circle class="dt" cx="2645.1" cy="708.5" r="1.6"/><use href="#r1" class="c2" x="2633.5" y="716.5"/><text class="lf" x="2633.5" y="716.5" dy=".36em">2</text></g>
<g id="leaf95"><circle class="dt" cx="2671.7" cy="708.5" r="1.6"/><use href="#r2" class="c13" x="2658.3" y="688.3"/><text class="lf" x="2658.3" y="688.3" dy=".36em">13</text></g>
<g id="leaf96"><circle class="dt" cx="2698.3" cy="708.5" r="1.6"/><use href="#r1" class="c6" x="2685" y="716.5"/><text class="lf" x="2685" y="716.5" dy=".36em">6</text></g>
<g id="leaf97"><circle class="dt" cx="2724.9" cy="708.5" r="1.6"/><use href="#r1" class="c4" x="2729.8" y="722.5"/><text class="lf" x="2729.8" y="722.5" dy=".36em">4</text></g>
<g id="leaf98"><circle class="dt" cx="2751.6" cy="708.5" r="1.6"/><use href="#r1" class="c2" x="2758" y="694.2"/><text class="lf" x="2758" y="694.2" dy=".36em">2</text></g>
<g id="leaf99"><circle class="dt" cx="2778.2" cy="708.5" r="1.6"/><use href="#r1" class="c2" x="2790.5" y="714.2"/><text class="lf" x="2790.5" y="714.2" dy=".36em">2</text></g>
<g id="leaf100"><circle class="dt" cx="2804.8" cy="708.5" r="1.6"/><use href="#r1" class="c6" x="2817.8" y="700.8"/><text class="lf" x="2817.8" y="700.8" dy=".36em">6</text></g>
<g id="leaf101"><circle class="dt" cx="2831.4" cy="708.5" r="1.6"/><use href="#r1" class="c4" x="2864" y="723.5"/><text class="lf" x="2864" y="723.5" dy=".36em">4</text></g>
<g id="leaf102"><circle class="dt" cx="2858" cy="708.5" r="1.6"/><use href="#r1" class="c6" x="2893.8" y="700.8"/><text class="lf" x="2893.8" y="700.8" dy=".36em">6</text></g>
</g>
</svg>
